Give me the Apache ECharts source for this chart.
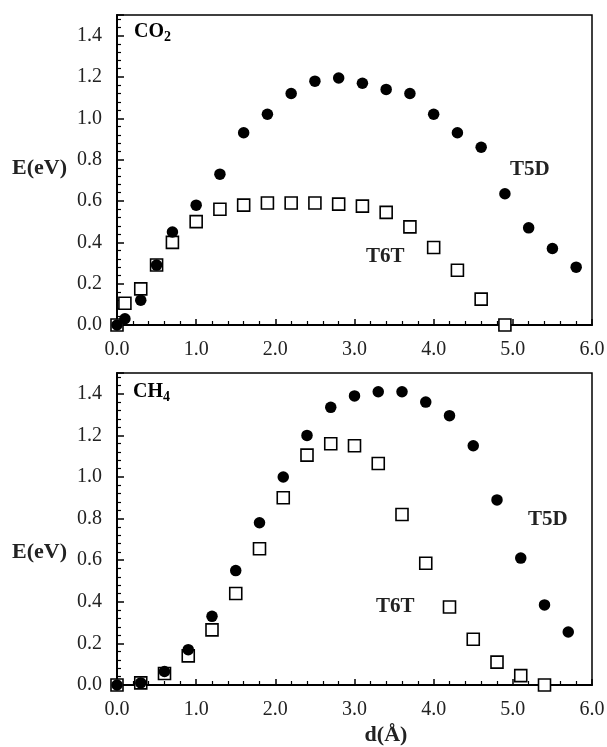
<!DOCTYPE html>
<html>
<head>
<meta charset="utf-8">
<script src="https://cdn.jsdelivr.net/npm/echarts@6/dist/echarts.min.js"></script>
<style>
  html, body { margin: 0; padding: 0; background: #fff; }
  #chart { width: 607px; height: 747px; }
</style>
</head>
<body>
<div id="chart"></div>
<script>
// CO2 panel
var co2X_T5D = [0, 0.1, 0.3, 0.5, 0.7, 1.0, 1.3, 1.6, 1.9, 2.2, 2.5, 2.8, 3.1, 3.4, 3.7, 4.0, 4.3, 4.6, 4.9, 5.2, 5.5, 5.8]
var co2E_T5D = [0, 0.03, 0.12, 0.29, 0.45, 0.58, 0.73, 0.93, 1.02, 1.12, 1.18, 1.195, 1.17, 1.14, 1.12, 1.02, 0.93, 0.86, 0.635, 0.47, 0.37, 0.28]
var co2X_T6T = [0, 0.1, 0.3, 0.5, 0.7, 1.0, 1.3, 1.6, 1.9, 2.2, 2.5, 2.8, 3.1, 3.4, 3.7, 4.0, 4.3, 4.6, 4.9]
var co2E_T6T = [0, 0.105, 0.175, 0.29, 0.40, 0.50, 0.56, 0.58, 0.59, 0.59, 0.59, 0.585, 0.575, 0.545, 0.475, 0.375, 0.265, 0.125, 0]
// CH4 panel
var ch4X_T5D = [0, 0.3, 0.6, 0.9, 1.2, 1.5, 1.8, 2.1, 2.4, 2.7, 3.0, 3.3, 3.6, 3.9, 4.2, 4.5, 4.8, 5.1, 5.4, 5.7]
var ch4E_T5D = [0, 0.01, 0.065, 0.17, 0.33, 0.55, 0.78, 1.0, 1.2, 1.335, 1.39, 1.41, 1.41, 1.36, 1.295, 1.15, 0.89, 0.61, 0.385, 0.255]
var ch4X_T6T = [0, 0.3, 0.6, 0.9, 1.2, 1.5, 1.8, 2.1, 2.4, 2.7, 3.0, 3.3, 3.6, 3.9, 4.2, 4.5, 4.8, 5.1, 5.4]
var ch4E_T6T = [0, 0.01, 0.055, 0.14, 0.265, 0.44, 0.655, 0.9, 1.105, 1.16, 1.15, 1.065, 0.82, 0.585, 0.375, 0.22, 0.11, 0.045, 0]

var font = 'Liberation Serif'
var textColor = '#222'

function pairs (xs, ys) {
  return xs.map(function (x, i) { return [x, ys[i]] })
}

function xAxisOpt (idx) {
  return {
    type: 'value',
    gridIndex: idx,
    min: 0,
    max: 6,
    interval: 1,
    axisLine: { show: true, lineStyle: { color: '#000', width: 2 } },
    axisTick: { show: true, inside: true, length: 6, lineStyle: { color: '#000', width: 1.5 } },
    minorTick: { show: true, splitNumber: 5, length: 4, lineStyle: { color: '#000', width: 1.2 } },
    splitLine: { show: false },
    axisLabel: {
      margin: 15,
      color: textColor,
      fontFamily: font,
      fontSize: 20,
      formatter: function (v) { return v.toFixed(1) }
    }
  }
}

function yAxisOpt (idx) {
  return {
    type: 'value',
    gridIndex: idx,
    min: 0,
    max: 1.5,
    interval: 0.2,
    axisLine: { show: true, lineStyle: { color: '#000', width: 2 } },
    axisTick: { show: true, inside: true, length: 7, lineStyle: { color: '#000', width: 1.5 } },
    minorTick: { show: true, splitNumber: 5, length: 4, lineStyle: { color: '#000', width: 1.2 } },
    splitLine: { show: false },
    axisLabel: {
      margin: 15,
      color: textColor,
      fontFamily: font,
      fontSize: 20,
      formatter: function (v) {
        var k = v / 0.2
        return Math.abs(k - Math.round(k)) < 1e-6 ? v.toFixed(1) : ''
      }
    }
  }
}

function squares (idx, data) {
  return {
    type: 'scatter',
    xAxisIndex: idx,
    yAxisIndex: idx,
    data: data,
    symbol: 'rect',
    symbolSize: 12,
    clip: false,
    z: 2,
    itemStyle: { color: '#fff', borderColor: '#000', borderWidth: 1.6, opacity: 1 }
  }
}

function dots (idx, data) {
  return {
    type: 'scatter',
    xAxisIndex: idx,
    yAxisIndex: idx,
    data: data,
    symbol: 'circle',
    symbolSize: 11.5,
    clip: false,
    z: 3,
    itemStyle: { color: '#000', opacity: 1 }
  }
}

function label (x, y, text, size, align) {
  return {
    type: 'text',
    x: x,
    y: y,
    z: 10,
    style: {
      text: text,
      fill: textColor,
      font: 'bold ' + (size || 20) + 'px "' + font + '"',
      textAlign: align || 'left',
      textVerticalAlign: 'middle'
    }
  }
}

function formula (x, y, base, sub) {
  return {
    type: 'text',
    x: x,
    y: y,
    z: 10,
    style: {
      text: '{a|' + base + '}{b|' + sub + '}',
      textVerticalAlign: 'middle',
      rich: {
        a: { fontFamily: font, fontWeight: 'bold', fontSize: 20, color: textColor, lineHeight: 22, verticalAlign: 'top' },
        b: { fontFamily: font, fontWeight: 'bold', fontSize: 14, color: textColor, lineHeight: 14, verticalAlign: 'bottom' }
      }
    }
  }
}

var myChart = echarts.init(document.getElementById('chart'))
var option = {
  animation: false,
  backgroundColor: '#fff',
  grid: [
    { left: 117, top: 15, width: 475, height: 310, show: true, borderColor: '#000', borderWidth: 1.5, outerBoundsMode: 'none' },
    { left: 117, top: 373, width: 475, height: 312, show: true, borderColor: '#000', borderWidth: 1.5, outerBoundsMode: 'none' }
  ],
  xAxis: [xAxisOpt(0), xAxisOpt(1)],
  yAxis: [yAxisOpt(0), yAxisOpt(1)],
  series: [
    squares(0, pairs(co2X_T6T, co2E_T6T)),
    dots(0, pairs(co2X_T5D, co2E_T5D)),
    squares(1, pairs(ch4X_T6T, ch4E_T6T)),
    dots(1, pairs(ch4X_T5D, ch4E_T5D))
  ],
  graphic: [
    label(12, 168, 'E(eV)', 22),
    label(12, 552, 'E(eV)', 22),
    formula(134, 33, 'CO', '2'),
    formula(133, 393, 'CH', '4'),
    label(510, 170, 'T5D', 21),
    label(366, 257, 'T6T', 21),
    label(528, 520, 'T5D', 21),
    label(376, 607, 'T6T', 21),
    label(386, 735, 'd(Å)', 22, 'center')
  ]
}
myChart.setOption(option, true)
</script>
</body>
</html>
